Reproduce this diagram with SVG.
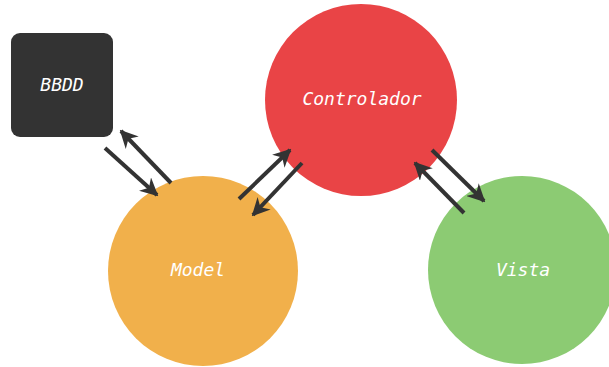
<svg xmlns="http://www.w3.org/2000/svg" width="609" height="367" viewBox="0 0 609 367">
<defs>
<marker id="ah" viewBox="0 0 10 10" refX="9" refY="5" markerWidth="4.5" markerHeight="4.5" orient="auto" markerUnits="strokeWidth">
<path d="M0,0 L10,5 L0,10 L3,5 Z" fill="#333333"/>
</marker>
<style>
.lbl{font-family:"DejaVu Sans Mono","Liberation Mono",monospace;font-style:italic;font-size:18px;fill:#ffffff;text-anchor:middle;}
.conn line{stroke:#333333;stroke-width:4;marker-end:url(#ah);}
</style>
</defs>
<rect width="609" height="367" fill="#ffffff"/>
<g id="bbdd">
<rect x="11" y="33" width="102" height="104" rx="9" fill="#333333"/>
<text class="lbl" x="62" y="91">BBDD</text>
</g>
<g id="controlador">
<circle cx="361" cy="100" r="96" fill="#E94446"/>
<text class="lbl" x="362" y="105">Controlador</text>
</g>
<g id="model">
<circle cx="203" cy="271" r="95" fill="#F1B04B"/>
<text class="lbl" x="198" y="276">Model</text>
</g>
<g id="vista">
<circle cx="522" cy="270" r="94" fill="#8CCB73"/>
<text class="lbl" x="523" y="276">Vista</text>
</g>
<g class="conn" id="connectors">
<line x1="105" y1="148" x2="157" y2="195"/>
<line x1="171" y1="183" x2="121" y2="131"/>
<line x1="239" y1="199" x2="290" y2="150"/>
<line x1="302" y1="163" x2="253" y2="215"/>
<line x1="432" y1="150" x2="484" y2="201"/>
<line x1="464" y1="213" x2="415" y2="163"/>
</g>
</svg>
